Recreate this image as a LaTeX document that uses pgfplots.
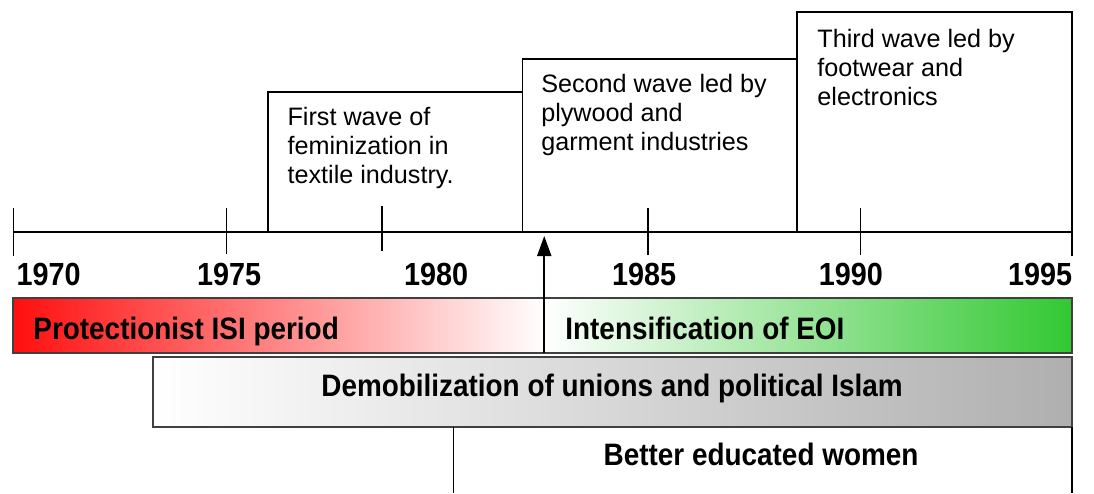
\documentclass[border=0pt]{standalone}
\usepackage{pgfplots}
\pgfplotsset{compat=1.18}
\usepackage{fontspec}
\setmainfont{Liberation Sans}
\newfontfamily\condbold[FakeStretch=0.9,BoldFont={Liberation Sans Bold}]{Liberation Sans Bold}
\usetikzlibrary{arrows.meta}
\definecolor{isired}{RGB}{255,15,15}
\definecolor{eoigreen}{RGB}{50,200,50}
\definecolor{demogray}{RGB}{175,175,175}
\begin{document}
\begin{tikzpicture}
\begin{axis}[
  width=547pt, height=246.5pt, scale only axis,
  xmin=1969.69, xmax=1995.52, ymin=0, ymax=493, y dir=reverse,
  axis lines=none, clip=false,
]
% frame for the bounding box (invisible)
\addplot[draw=none] coordinates {(1969.69,0) (1995.52,493)};
% period bars
\addplot[draw=black!75, line width=0.8pt, left color=isired, right color=white] coordinates {(1970,298) (1982.54,298) (1982.54,353) (1970,353)} -- cycle;
\addplot[draw=black!75, line width=0.8pt, left color=white, right color=eoigreen] coordinates {(1982.54,298) (1995,298) (1995,353) (1982.54,353)} -- cycle;
\addplot[draw=black!75, line width=0.8pt, left color=white, right color=demogray] coordinates {(1973.305,357) (1995,357) (1995,427) (1973.305,427)} -- cycle;
\addplot[black, line width=0.6pt] coordinates {(1980.39,427) (1980.39,493)};
\addplot[black, line width=0.6pt] coordinates {(1995,427) (1995,493)};
% timeline
\addplot[black, line width=0.6pt] coordinates {(1970,232) (1976.02,232)};
\addplot[black, line width=1.3pt] coordinates {(1976.02,232) (1995,232)};
% wave boxes
\addplot[black, line width=0.7pt] coordinates {(1976.02,232) (1976.02,92) (1982.02,92) (1982.02,232)};
\addplot[black, line width=0.7pt] coordinates {(1982.02,232) (1982.02,59) (1988.51,59) (1988.51,232)};
\addplot[black, line width=0.7pt] coordinates {(1988.51,232) (1988.51,12) (1995,12) (1995,256)};
% ticks
\addplot[black, line width=0.6pt] coordinates {(1970,208) (1970,256)};
\addplot[black, line width=0.6pt] coordinates {(1975.03,208) (1975.03,254)};
\addplot[black, line width=0.6pt] coordinates {(1978.71,206) (1978.71,251)};
\addplot[black, line width=0.6pt] coordinates {(1984.99,208) (1984.99,255)};
\addplot[black, line width=0.6pt] coordinates {(1990,208) (1990,255)};
% arrow
\addplot[black, line width=1pt, -{Triangle[length=10pt,width=7pt]}] coordinates {(1982.54,353) (1982.54,236)};
% tick labels
\node[anchor=base, font=\condbold\fontsize{16}{16}\selectfont, inner sep=0] at (axis cs:1970.84,285) {1970};
\node[anchor=base, font=\condbold\fontsize{16}{16}\selectfont, inner sep=0] at (axis cs:1975.10,285) {1975};
\node[anchor=base, font=\condbold\fontsize{16}{16}\selectfont, inner sep=0] at (axis cs:1979.99,285) {1980};
\node[anchor=base, font=\condbold\fontsize{16}{16}\selectfont, inner sep=0] at (axis cs:1984.90,285) {1985};
\node[anchor=base, font=\condbold\fontsize{16}{16}\selectfont, inner sep=0] at (axis cs:1989.78,285) {1990};
\node[anchor=base, font=\condbold\fontsize{16}{16}\selectfont, inner sep=0] at (axis cs:1994.25,285) {1995};
% bar labels
\node[anchor=base west, font=\condbold\fontsize{15.5}{15.5}\selectfont, inner sep=0] at (axis cs:1970.47,339) {Protectionist ISI period};
\node[anchor=base west, font=\condbold\fontsize{15.5}{15.5}\selectfont, inner sep=0] at (axis cs:1983.03,339) {Intensification of EOI};
\node[anchor=base, font=\condbold\fontsize{15.5}{15.5}\selectfont, inner sep=0] at (axis cs:1984.14,396) {Demobilization of unions and political Islam};
\node[anchor=base, font=\condbold\fontsize{15.5}{15.5}\selectfont, inner sep=0] at (axis cs:1987.66,465) {Better educated women};
% box texts
\node[anchor=base west, font=\fontsize{12.6}{14}\selectfont, inner sep=0] at (axis cs:1976.47,125) {First wave of};
\node[anchor=base west, font=\fontsize{12.6}{14}\selectfont, inner sep=0] at (axis cs:1976.47,154) {feminization in};
\node[anchor=base west, font=\fontsize{12.6}{14}\selectfont, inner sep=0] at (axis cs:1976.47,183) {textile industry.};
\node[anchor=base west, font=\fontsize{12.6}{14}\selectfont, inner sep=0] at (axis cs:1982.46,92) {Second wave led by};
\node[anchor=base west, font=\fontsize{12.6}{14}\selectfont, inner sep=0] at (axis cs:1982.46,121) {plywood and};
\node[anchor=base west, font=\fontsize{12.6}{14}\selectfont, inner sep=0] at (axis cs:1982.46,150) {garment industries};
\node[anchor=base west, font=\fontsize{12.6}{14}\selectfont, inner sep=0] at (axis cs:1988.98,47) {Third wave led by};
\node[anchor=base west, font=\fontsize{12.6}{14}\selectfont, inner sep=0] at (axis cs:1988.98,76) {footwear and};
\node[anchor=base west, font=\fontsize{12.6}{14}\selectfont, inner sep=0] at (axis cs:1988.98,105) {electronics};
\end{axis}
\end{tikzpicture}
\end{document}
